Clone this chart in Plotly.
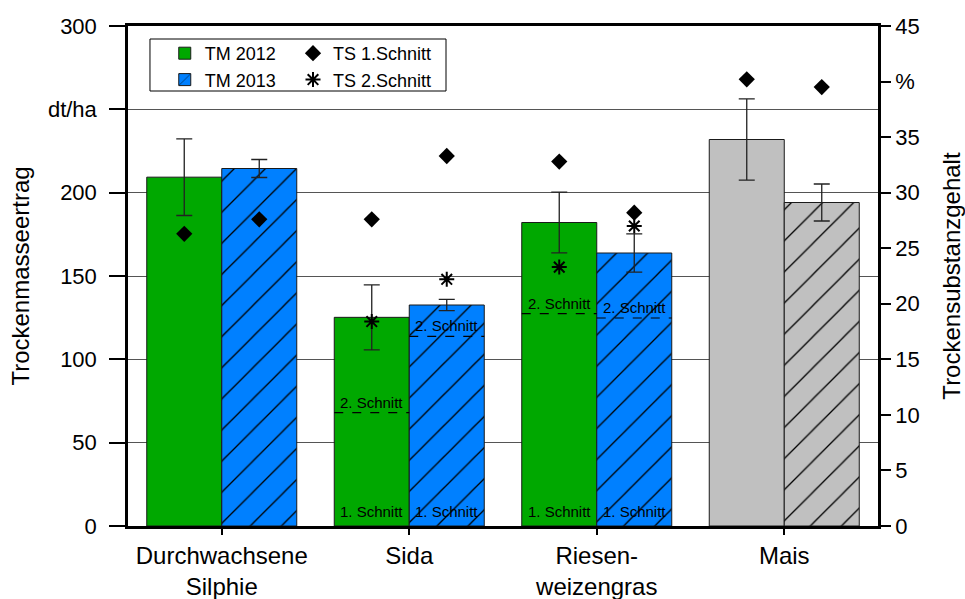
import plotly.graph_objects as go

# ---------------- data ----------------
categories = ["Durchwachsene<br>Silphie", "Sida", "Riesen-<br>weizengras", "Mais"]
reference_crop = [False, False, False, True]   # Mais drawn in grey

tm2012 = [209.3, 125.2, 182.1, 231.9]
tm2012_err = [23.0, 19.5, 18.2, 24.4]
tm2013 = [214.5, 132.6, 163.8, 194.1]
tm2013_err = [5.4, 3.4, 11.5, 11.1]

ts1_2012 = [26.3, 27.6, 32.8, 40.2]
ts1_2013 = [27.6, 33.3, 28.2, 39.5]
ts2_2012 = [None, 18.4, 23.3, None]
ts2_2013 = [None, 22.2, 27.0, None]

cut2_2012 = [None, 68.0, 127.4, None]
cut2_2013 = [None, 113.8, 124.8, None]

left_ticks = [0, 50, 100, 150, 200, 250, 300]
left_ticktext = ["0", "50", "100", "150", "200", "dt/ha", "300"]
right_ticks = [0, 5, 10, 15, 20, 25, 30, 35, 40, 45]
right_ticktext = ["0", "5", "10", "15", "20", "25", "30", "35", "%", "45"]

label_cut1 = "1. Schnitt"
label_cut2 = "2. Schnitt"

# ---------------- styling ----------------
FONT = "Liberation Sans, Arial, sans-serif"
GREEN = "#00A800"
BLUE = "#0080FF"
GREY = "#C0C0C0"
BW = 0.4  # bar width in category units

pos = [i + 1 for i in range(len(categories))]
x12 = [p - BW / 2 for p in pos]
x13 = [p + BW / 2 for p in pos]


def pick(values, want_ref):
    return [v for v, r in zip(values, reference_crop) if r == want_ref]


HATCH = dict(shape="/", fillmode="overlay", fgcolor="#000000", fgopacity=1,
             size=22, solidity=0.06)
ERR = dict(type="data", color="#222", thickness=1.3, width=8)
OUTLINE = dict(color="#1a1a1a", width=1)

fig = go.Figure()

for want_ref, c12, c13, show in ((False, GREEN, BLUE, True), (True, GREY, GREY, False)):
    fig.add_trace(go.Bar(
        x=pick(pos, want_ref), y=pick(tm2012, want_ref), offset=-BW, width=BW,
        name="TM 2012", showlegend=show, legend="legend",
        marker=dict(color=c12, line=OUTLINE),
        error_y=dict(ERR, array=pick(tm2012_err, want_ref)),
    ))
    fig.add_trace(go.Bar(
        x=pick(pos, want_ref), y=pick(tm2013, want_ref), offset=0, width=BW,
        name="TM 2013", showlegend=show, legend="legend",
        marker=dict(color=c13, line=OUTLINE, pattern=HATCH),
        error_y=dict(ERR, array=pick(tm2013_err, want_ref)),
    ))

# dashed "2. Schnitt" lines
dx, dy = [], []
for xc, v in list(zip(x12, cut2_2012)) + list(zip(x13, cut2_2013)):
    if v is None:
        continue
    dx += [xc - BW / 2, xc + BW / 2, None]
    dy += [v, v, None]
fig.add_trace(go.Scatter(x=dx, y=dy, mode="lines", showlegend=False,
                         line=dict(color="#000", width=1.2, dash="dash"),
                         hoverinfo="skip"))

fig.add_trace(go.Scatter(
    x=x12 + x13, y=ts1_2012 + ts1_2013, yaxis="y2", mode="markers",
    name="TS 1.Schnitt", marker=dict(symbol="diamond", size=12.5, color="#000"),
    legend="legend2",
))
fig.add_trace(go.Scatter(
    x=x12 + x13, y=ts2_2012 + ts2_2013, yaxis="y2", mode="markers",
    name="TS 2.Schnitt",
    marker=dict(symbol="asterisk-open", size=12.5, color="#000",
                line=dict(color="#000", width=2)),
    legend="legend2",
))

annotations = []
for xs, cuts in ((x12, cut2_2012), (x13, cut2_2013)):
    for xc, v in zip(xs, cuts):
        if v is None:
            continue
        annotations.append(dict(x=xc, y=v, xref="x", yref="y", text=label_cut2,
                                showarrow=False, yanchor="bottom", yshift=0,
                                font=dict(family=FONT, size=15, color="#000")))
        annotations.append(dict(x=xc, y=0, xref="x", yref="y", text=label_cut1,
                                showarrow=False, yanchor="bottom", yshift=4,
                                font=dict(family=FONT, size=15, color="#000")))

# legend frame
shapes = [dict(type="rect", xref="paper", yref="paper",
               x0=0.0293, x1=0.424, y0=0.870, y1=0.974,
               line=dict(color="#000", width=1), fillcolor="rgba(0,0,0,0)")]

fig.update_layout(
    width=965, height=599,
    margin=dict(l=128, r=87, t=26, b=73, autoexpand=False),
    paper_bgcolor="white", plot_bgcolor="white",
    font=dict(family=FONT, size=22, color="#000"),
    barmode="overlay",
    showlegend=True,
    legend=dict(x=0.049, y=0.982, xanchor="left", yanchor="top",
                bgcolor="rgba(0,0,0,0)", font=dict(size=18), tracegroupgap=0),
    legend2=dict(x=0.22, y=0.982, xanchor="left", yanchor="top",
                 bgcolor="rgba(0,0,0,0)", font=dict(size=18), tracegroupgap=0),
    xaxis=dict(range=[0.5, 4.5], tickvals=pos, ticktext=categories,
               showline=True, linewidth=3, linecolor="#000", mirror=True,
               ticks="outside", ticklen=6, tickwidth=2, tickcolor="#000",
               showgrid=False, zeroline=False, tickfont=dict(size=24)),
    yaxis=dict(range=[0, 300], tickvals=left_ticks, ticktext=left_ticktext,
               showline=True, linewidth=2.5, linecolor="#000",
               ticks="outside", ticklen=16, tickwidth=2, tickcolor="#000",
               ticklabelstandoff=8,
               showgrid=True, gridcolor="#555", gridwidth=1, zeroline=False,
               title=dict(text="Trockenmasseertrag", font=dict(size=24), standoff=12),
               automargin=False),
    yaxis2=dict(range=[0, 45], tickvals=right_ticks, ticktext=right_ticktext,
                overlaying="y", side="right",
                showline=True, linewidth=2.5, linecolor="#000",
                ticks="outside", ticklen=10, tickwidth=2, tickcolor="#000",
                showgrid=False, zeroline=False,
                title=dict(text="Trockensubstanzgehalt", font=dict(size=24), standoff=26),
                automargin=False),
    annotations=annotations,
    shapes=shapes,
)

fig.write_html(
    "out.html",
    config={"displayModeBar": False},
    post_script="document.body.style.margin='0';document.body.style.overflow='hidden';",
)
